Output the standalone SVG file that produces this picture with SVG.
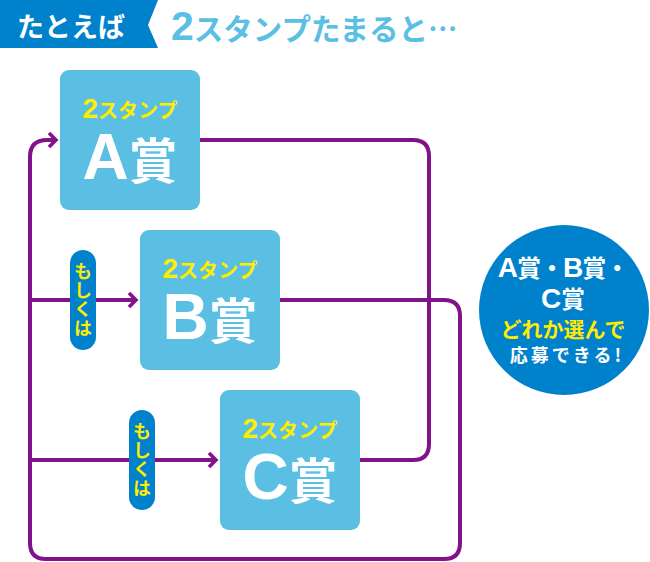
<svg xmlns="http://www.w3.org/2000/svg" width="650" height="562" viewBox="0 0 650 562">
<defs>
<style>
.box{fill:#5bbfe4;}
.con{fill:none;stroke:#80128a;stroke-width:4;}
.jp{font-family:"Noto Sans CJK JP","Liberation Sans",sans-serif;font-weight:bold;}
.lat{font-family:"Liberation Sans","Noto Sans CJK JP",sans-serif;font-weight:bold;}
.yel{fill:#ffed00;}
.wht{fill:#ffffff;}
.pill{fill:#0081cc;}
</style>
<marker id="arr" markerUnits="userSpaceOnUse" markerWidth="20" markerHeight="20" refX="10" refY="10" orient="auto" viewBox="0 0 20 20">
<path d="M3,3 L10,10 L3,17" fill="none" stroke="#80128a" stroke-width="3.5" stroke-linejoin="miter"/>
</marker>
</defs>
<rect width="650" height="562" fill="#ffffff"/>
<g id="header">
<polygon points="0,0 158,0 148,25 158,48 0,48" fill="#0081cc"/>
<text x="17" y="37" class="jp wht" font-size="27">たとえば</text>
<text x="171" y="40" class="jp" fill="#5bbfe4" font-size="29.5"><tspan class="lat" font-size="41">2</tspan>スタンプたまると…</text>
</g>
<g id="connectors">
<path class="con" d="M200,140 H413 Q429,140 429,156 V444 Q429,460 413,460 H360"/>
<path class="con" d="M280,300 H444 Q460,300 460,316 V543 Q460,559 444,559 H46 Q30,559 30,543 V157 Q30,140 47,140 H56" marker-end="url(#arr)"/>
<path class="con" d="M30,300 H136" marker-end="url(#arr)"/>
<path class="con" d="M30,460 H216" marker-end="url(#arr)"/>
</g>
<g id="nodeA">
<rect class="box" x="60" y="70" width="140" height="140" rx="9"/>
<text x="130" y="118" text-anchor="middle" class="jp yel" font-size="20"><tspan class="lat" font-size="28">2</tspan>スタンプ</text>
<text x="130" y="179" text-anchor="middle" class="jp wht" font-size="49"><tspan class="lat" font-size="64">A</tspan>賞</text>
</g>
<g id="nodeB">
<rect class="box" x="140" y="230" width="140" height="140" rx="9"/>
<text x="210" y="278" text-anchor="middle" class="jp yel" font-size="20"><tspan class="lat" font-size="28">2</tspan>スタンプ</text>
<text x="210" y="339" text-anchor="middle" class="jp wht" font-size="49"><tspan class="lat" font-size="64">B</tspan>賞</text>
</g>
<g id="nodeC">
<rect class="box" x="220" y="390" width="140" height="140" rx="9"/>
<text x="290" y="438" text-anchor="middle" class="jp yel" font-size="20"><tspan class="lat" font-size="28">2</tspan>スタンプ</text>
<text x="290" y="499" text-anchor="middle" class="jp wht" font-size="49"><tspan class="lat" font-size="64">C</tspan>賞</text>
</g>
<g id="or1">
<rect class="pill" x="70" y="250" width="26" height="100" rx="13"/>
<text x="83" y="262" class="jp yel" font-size="18" style="writing-mode:vertical-rl" text-anchor="start" letter-spacing="1">もしくは</text>
</g>
<g id="or2">
<rect class="pill" x="129" y="410" width="26" height="100" rx="13"/>
<text x="142" y="422" class="jp yel" font-size="18" style="writing-mode:vertical-rl" text-anchor="start" letter-spacing="1">もしくは</text>
</g>
<g id="badge">
<circle cx="564" cy="310" r="85" fill="#0081cc"/>
<text x="563" y="277" text-anchor="middle" class="jp wht" font-size="24" letter-spacing="-1"><tspan class="lat" font-size="28">A</tspan>賞・<tspan class="lat" font-size="28">B</tspan>賞・</text>
<text x="563" y="308" text-anchor="middle" class="jp wht" font-size="24"><tspan class="lat" font-size="28">C</tspan>賞</text>
<text x="563" y="337" text-anchor="middle" class="jp yel" font-size="21">どれか選んで</text>
<text x="567" y="362" text-anchor="middle" class="jp wht" font-size="18" letter-spacing="3">応募できる!</text>
</g>
</svg>
